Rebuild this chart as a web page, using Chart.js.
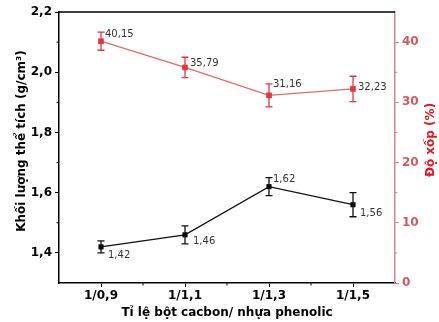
<!DOCTYPE html>
<html>
<head>
<meta charset="utf-8">
<script src="https://cdn.jsdelivr.net/npm/chart.js@4"></script>
<style>
  body { margin: 0; background: #fff; }
  #wrap { width: 439px; height: 322px; position: relative; }
</style>
</head>
<body>
<div id="wrap"><canvas id="chart"></canvas></div>
<script>
// Dữ liệu
const categories = ['1/0,9', '1/1,1', '1/1,3', '1/1,5'];
const densityValues = [1.42, 1.46, 1.62, 1.56];
const densityErrors = [0.02, 0.03, 0.03, 0.04];
const porosityValues = [40.15, 35.79, 31.16, 32.23];
const porosityErrors = [1.5, 1.7, 1.9, 2.1];
const densityTicks = [1.4, 1.6, 1.8, 2.0, 2.2];
const densityMinorTicks = [1.5, 1.7, 1.9, 2.1];
const porosityTicks = [0, 10, 20, 30, 40];
const porosityMinorTicks = [5, 15, 25, 35];

// Vị trí nhãn số liệu (dx, dy so với điểm)
const densityLabelOffsets = [[7, 9], [8, 7], [4, -7], [7, 9]];
const porosityLabelOffsets = [[4, -7], [5, -4], [4, -11], [5, -1]];

const RED = '#e0373f';
const RED_LINE = '#e06a70';
const RED_AXIS = '#d9858a';
const RED_TICK = '#cf5a60';
const RED_TITLE = '#e3161f';

function comma(v, d) {
    return v.toFixed(d).replace('.', ',');
}

// Vẽ thanh sai số
const errorBarPlugin = {
    id: 'errorBars',
    afterDatasetsDraw(chart) {
        const ctx = chart.ctx;
        chart.data.datasets.forEach((ds, i) => {
            const meta = chart.getDatasetMeta(i);
            const scale = chart.scales[ds.yAxisID];
            ctx.save();
            ctx.strokeStyle = ds.errorColor;
            ctx.lineWidth = 1.3;
            meta.data.forEach((pt, j) => {
                const v = ds.data[j];
                const e = ds.errors[j];
                const yTop = scale.getPixelForValue(v + e);
                const yBot = scale.getPixelForValue(v - e);
                ctx.beginPath();
                ctx.moveTo(pt.x, yTop);
                ctx.lineTo(pt.x, yBot);
                ctx.moveTo(pt.x - 3.5, yTop);
                ctx.lineTo(pt.x + 3.5, yTop);
                ctx.moveTo(pt.x - 3.5, yBot);
                ctx.lineTo(pt.x + 3.5, yBot);
                ctx.stroke();
            });
            ctx.restore();
        });
    }
};

// Nhãn giá trị
const valueLabelPlugin = {
    id: 'valueLabels',
    afterDatasetsDraw(chart) {
        const ctx = chart.ctx;
        ctx.save();
        ctx.font = '10px "DejaVu Sans"';
        ctx.fillStyle = '#333';
        ctx.textAlign = 'left';
        ctx.textBaseline = 'middle';
        chart.data.datasets.forEach((ds, i) => {
            const meta = chart.getDatasetMeta(i);
            meta.data.forEach((pt, j) => {
                const off = ds.labelOffsets[j];
                ctx.fillText(comma(ds.data[j], 2), pt.x + off[0], pt.y + off[1]);
            });
        });
        ctx.restore();
    }
};

// Khung trên, vạch phụ và tiêu đề trục
const framePlugin = {
    id: 'frame',
    afterDraw(chart) {
        const ctx = chart.ctx;
        const area = chart.chartArea;
        const y = chart.scales.y;
        const y1 = chart.scales.y1;
        const x = chart.scales.x;
        ctx.save();

        ctx.strokeStyle = '#000';
        ctx.lineWidth = 1.5;
        ctx.beginPath();
        ctx.moveTo(area.left, area.top);
        ctx.lineTo(area.right, area.top);
        ctx.stroke();

        ctx.lineWidth = 1;
        ctx.beginPath();
        densityMinorTicks.forEach(v => {
            const py = y.getPixelForValue(v);
            ctx.moveTo(area.left - 2.5, py);
            ctx.lineTo(area.left, py);
        });
        for (let i = 0; i < categories.length - 1; i++) {
            const px = (x.getPixelForValue(i) + x.getPixelForValue(i + 1)) / 2;
            ctx.moveTo(px, area.bottom);
            ctx.lineTo(px, area.bottom + 2.5);
        }
        ctx.stroke();

        ctx.strokeStyle = RED_AXIS;
        ctx.beginPath();
        porosityMinorTicks.forEach(v => {
            const py = y1.getPixelForValue(v);
            ctx.moveTo(area.right, py);
            ctx.lineTo(area.right + 2.5, py);
        });
        ctx.stroke();

        ctx.textAlign = 'center';
        ctx.textBaseline = 'middle';
        ctx.font = 'bold 12px "DejaVu Sans"';

        ctx.fillStyle = '#000';
        ctx.fillText('Tỉ lệ bột cacbon/ nhựa phenolic', (area.left + area.right) / 2, 313);

        ctx.save();
        ctx.translate(22, 141);
        ctx.rotate(-Math.PI / 2);
        ctx.fillText('Khối lượng thể tích (g/cm³)', 0, 0);
        ctx.restore();

        ctx.save();
        ctx.fillStyle = RED_TITLE;
        ctx.translate(431, 140);
        ctx.rotate(-Math.PI / 2);
        ctx.fillText('Độ xốp (%)', 0, 0);
        ctx.restore();

        ctx.restore();
    }
};

new Chart(document.getElementById('chart'), {
    type: 'line',
    data: {
        labels: categories,
        datasets: [
            {
                label: 'Độ xốp',
                data: porosityValues,
                errors: porosityErrors,
                errorColor: RED,
                labelOffsets: porosityLabelOffsets,
                yAxisID: 'y1',
                borderColor: RED_LINE,
                borderWidth: 1.3,
                backgroundColor: RED,
                pointStyle: 'rect',
                pointRadius: 4,
                pointBorderWidth: 0,
                pointBackgroundColor: RED,
                tension: 0
            },
            {
                label: 'Khối lượng thể tích',
                data: densityValues,
                errors: densityErrors,
                errorColor: '#111',
                labelOffsets: densityLabelOffsets,
                yAxisID: 'y',
                borderColor: '#111',
                borderWidth: 1.3,
                backgroundColor: '#000',
                pointStyle: 'rect',
                pointRadius: 3.6,
                pointBorderWidth: 0,
                pointBackgroundColor: '#000',
                tension: 0
            }
        ]
    },
    options: {
        responsive: true,
        maintainAspectRatio: false,
        animation: false,
        layout: { padding: { top: 12, left: 0, right: 0, bottom: 0 } },
        plugins: {
            legend: { display: false },
            tooltip: { enabled: false }
        },
        scales: {
            x: {
                type: 'category',
                offset: true,
                grid: {
                    drawOnChartArea: false,
                    drawTicks: true,
                    tickLength: 4,
                    color: '#000',
                    offset: false
                },
                border: { color: '#000', width: 1.5 },
                ticks: {
                    color: '#000',
                    padding: 2,
                    font: { family: 'DejaVu Sans', size: 12, weight: 'bold' }
                },
                afterFit(scale) { scale.height = 39; }
            },
            y: {
                position: 'left',
                min: 1.3,
                max: 2.2,
                afterBuildTicks(scale) {
                    scale.ticks = densityTicks.map(v => ({ value: v }));
                },
                grid: {
                    drawOnChartArea: false,
                    tickLength: 4,
                    color: '#000'
                },
                border: { color: '#000', width: 1.5 },
                ticks: {
                    color: '#000',
                    padding: 3,
                    font: { family: 'DejaVu Sans', size: 12, weight: 'bold' },
                    callback: v => comma(v, 1)
                },
                afterFit(scale) { scale.width = 59; }
            },
            y1: {
                position: 'right',
                min: 0,
                max: 45,
                afterBuildTicks(scale) {
                    scale.ticks = porosityTicks.map(v => ({ value: v }));
                },
                grid: {
                    drawOnChartArea: false,
                    tickLength: 4,
                    color: RED_AXIS
                },
                border: { color: RED_AXIS, width: 1.5 },
                ticks: {
                    color: RED_TICK,
                    padding: 3,
                    font: { family: 'DejaVu Sans', size: 12, weight: 'bold' },
                    callback: v => String(v)
                },
                afterFit(scale) { scale.width = 44; }
            }
        }
    },
    plugins: [errorBarPlugin, valueLabelPlugin, framePlugin]
});
</script>
</body>
</html>
